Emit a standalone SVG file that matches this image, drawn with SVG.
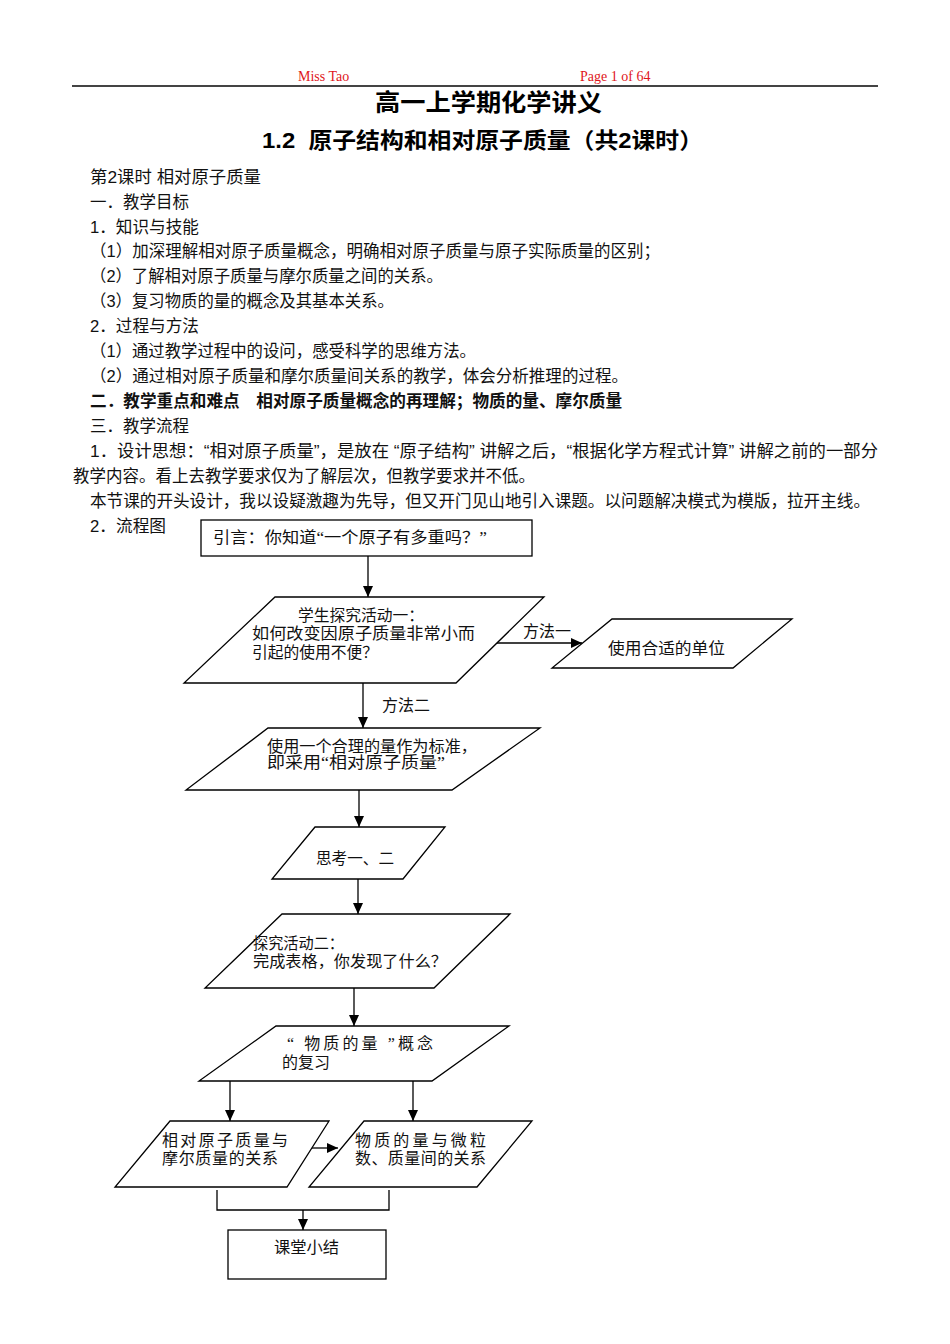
<svg xmlns="http://www.w3.org/2000/svg" width="950" height="1344" viewBox="0 0 950 1344">
<style>
.hdr{font-family:"Liberation Serif",serif;font-size:14px;fill:#e0161b}
.t1{font-family:"Liberation Sans","Noto Sans CJK SC",sans-serif;font-weight:bold;fill:#000}
.b{font-family:"Liberation Sans","Noto Sans CJK SC",sans-serif;font-size:16.5px;fill:#111}
.bb{font-weight:bold}
.f{font-family:"Liberation Serif","Noto Sans CJK SC",serif;font-size:16px;fill:#111}
.shape{fill:#fff;stroke:#000;stroke-width:1.3}
.con{fill:none;stroke:#000;stroke-width:1.3}
.arr{marker-end:url(#ah)}
</style>
<defs>
<marker id="ah" markerUnits="userSpaceOnUse" markerWidth="11" markerHeight="10" refX="11" refY="5" orient="auto">
<path d="M0,0 L11,5 L0,10 z" fill="#000"/>
</marker>
</defs>
<rect x="0" y="0" width="950" height="1344" fill="#fff"/>

<g id="header">
<text class="hdr" x="298" y="81">Miss Tao</text>
<text class="hdr" x="580" y="81">Page 1 of 64</text>
<line x1="72" y1="86" x2="878" y2="86" stroke="#444" stroke-width="2"/>
</g>

<g id="titles">
<text class="t1" x="375" y="111" font-size="24" textLength="227" lengthAdjust="spacingAndGlyphs">高一上学期化学讲义</text>
<text class="t1" x="262" y="148" font-size="22" textLength="441" lengthAdjust="spacingAndGlyphs" xml:space="preserve">1.2  原子结构和相对原子质量（共2课时）</text>
</g>

<g id="body">
<text class="b" x="90" y="183" textLength="171" lengthAdjust="spacingAndGlyphs">第2课时 相对原子质量</text>
<text class="b" x="90" y="208" textLength="99" lengthAdjust="spacingAndGlyphs">一．教学目标</text>
<text class="b" x="90" y="233" textLength="109" lengthAdjust="spacingAndGlyphs">1．知识与技能</text>
<text class="b" x="90" y="257" textLength="570" lengthAdjust="spacingAndGlyphs">（1）加深理解相对原子质量概念，明确相对原子质量与原子实际质量的区别；</text>
<text class="b" x="90" y="282" textLength="353" lengthAdjust="spacingAndGlyphs">（2）了解相对原子质量与摩尔质量之间的关系。</text>
<text class="b" x="90" y="307" textLength="304" lengthAdjust="spacingAndGlyphs">（3）复习物质的量的概念及其基本关系。</text>
<text class="b" x="90" y="332" textLength="109" lengthAdjust="spacingAndGlyphs">2．过程与方法</text>
<text class="b" x="90" y="357" textLength="386" lengthAdjust="spacingAndGlyphs">（1）通过教学过程中的设问，感受科学的思维方法。</text>
<text class="b" x="90" y="382" textLength="538" lengthAdjust="spacingAndGlyphs">（2）通过相对原子质量和摩尔质量间关系的教学，体会分析推理的过程。</text>
<text class="b bb" x="90" y="407" textLength="532" lengthAdjust="spacingAndGlyphs">二．教学重点和难点　相对原子质量概念的再理解；物质的量、摩尔质量</text>
<text class="b" x="90" y="432" textLength="99" lengthAdjust="spacingAndGlyphs">三．教学流程</text>
<text class="b" x="90" y="457" textLength="788" lengthAdjust="spacingAndGlyphs">1．设计思想：“相对原子质量”，是放在 “原子结构” 讲解之后，“根据化学方程式计算” 讲解之前的一部分</text>
<text class="b" x="73" y="482" textLength="462" lengthAdjust="spacingAndGlyphs">教学内容。看上去教学要求仅为了解层次，但教学要求并不低。</text>
<text class="b" x="90" y="507" textLength="780" lengthAdjust="spacingAndGlyphs">本节课的开头设计，我以设疑激趣为先导，但又开门见山地引入课题。以问题解决模式为模版，拉开主线。</text>
<text class="b" x="90" y="532" textLength="76" lengthAdjust="spacingAndGlyphs">2．流程图</text>
</g>

<g id="connectors">
<line class="con arr" x1="368" y1="556" x2="368" y2="597"/>
<line class="con arr" x1="496" y1="643" x2="582" y2="643"/>
<line class="con arr" x1="363" y1="683" x2="363" y2="728"/>
<line class="con arr" x1="359" y1="790" x2="359" y2="827"/>
<line class="con arr" x1="358" y1="879" x2="358" y2="914"/>
<line class="con arr" x1="354" y1="988" x2="354" y2="1026"/>
<line class="con arr" x1="230" y1="1081" x2="230" y2="1121"/>
<line class="con arr" x1="413" y1="1081" x2="413" y2="1121"/>
<line class="con arr" x1="307" y1="1148" x2="338" y2="1148"/>
<polyline class="con" points="217,1190 217,1210 389,1210 389,1190"/>
<line class="con arr" x1="303" y1="1210" x2="303" y2="1230"/>
<text class="f" x="523" y="637">方法一</text>
<text class="f" x="382" y="711">方法二</text>
</g>

<g id="n1">
<rect class="shape" x="201" y="520" width="331" height="36"/>
<text class="f" x="213" y="543" textLength="274" lengthAdjust="spacingAndGlyphs">引言：你知道“一个原子有多重吗？”</text>
</g>

<g id="n2">
<polygon class="shape" points="275,597 544,597 456,683 184,683"/>
<text class="f" x="298" y="621" textLength="126" lengthAdjust="spacingAndGlyphs">学生探究活动一：</text>
<text class="f" x="252" y="639" textLength="223" lengthAdjust="spacingAndGlyphs">如何改变因原子质量非常小而</text>
<text class="f" x="252" y="658" textLength="126" lengthAdjust="spacingAndGlyphs">引起的使用不便？</text>
</g>

<g id="n3">
<polygon class="shape" points="612,619 792,619 733,668 552,668"/>
<text class="f" x="608" y="654" textLength="117" lengthAdjust="spacingAndGlyphs">使用合适的单位</text>
</g>

<g id="n4">
<polygon class="shape" points="268,728 540,728 452,790 186,790"/>
<text class="f" x="267" y="752" textLength="210" lengthAdjust="spacingAndGlyphs">使用一个合理的量作为标准，</text>
<text class="f" x="267" y="768" textLength="178" lengthAdjust="spacingAndGlyphs">即采用“相对原子质量”</text>
</g>

<g id="n5">
<polygon class="shape" points="315,827 445,827 403,879 272,879"/>
<text class="f" x="316" y="864" textLength="78" lengthAdjust="spacingAndGlyphs">思考一、二</text>
</g>

<g id="n6">
<polygon class="shape" points="282,914 510,914 434,988 205,988"/>
<text class="f" x="253" y="949" textLength="91" lengthAdjust="spacingAndGlyphs">探究活动二：</text>
<text class="f" x="253" y="967" textLength="194" lengthAdjust="spacingAndGlyphs">完成表格，你发现了什么？</text>
</g>

<g id="n7">
<polygon class="shape" points="276,1026 509,1026 432,1081 199,1081"/>
<text class="f" x="287" y="1049" textLength="146" lengthAdjust="spacing">“ 物质的量 ”概念</text>
<text class="f" x="282" y="1068" textLength="48" lengthAdjust="spacingAndGlyphs">的复习</text>
</g>

<g id="n8">
<polygon class="shape" points="170,1121 329,1121 287,1187 115,1187"/>
<text class="f" x="162" y="1146" textLength="126" lengthAdjust="spacing">相对原子质量与</text>
<text class="f" x="162" y="1164" textLength="116" lengthAdjust="spacing">摩尔质量的关系</text>
</g>

<g id="n9">
<polygon class="shape" points="364,1121 532,1121 477,1187 309,1187"/>
<text class="f" x="355" y="1146" textLength="131" lengthAdjust="spacing">物质的量与微粒</text>
<text class="f" x="355" y="1164" textLength="131" lengthAdjust="spacing">数、质量间的关系</text>
</g>

<g id="n10">
<rect class="shape" x="228" y="1230" width="158" height="49"/>
<text class="f" x="274" y="1253" textLength="65" lengthAdjust="spacingAndGlyphs">课堂小结</text>
</g>
</svg>
